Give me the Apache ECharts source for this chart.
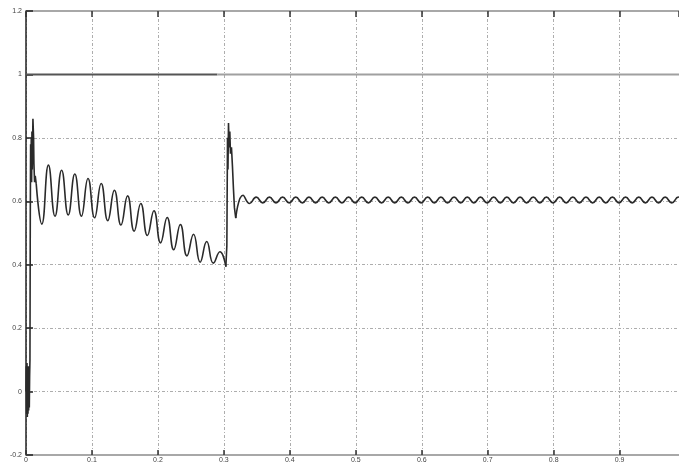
<!DOCTYPE html>
<html><head><meta charset="utf-8">
<script src="https://cdn.jsdelivr.net/npm/echarts@6/dist/echarts.min.js"></script>
<style>html,body{margin:0;padding:0;background:#fff}#c{width:679px;height:464px}</style>
</head><body><div id="c"></div>
<script>
// Axis ranges
const xRange = [0, 0.99, 0.1];
const yRange = [-0.2, 1.2, 0.2];

// Reference level (setpoint) line
const refLevelDark = [[0, 1], [0.29, 1]];
const refLevelLight = [[0.29, 1], [0.99, 1]];

// Startup transient (fast oscillation then rise to first overshoot)
const startup = [[0,0],[0.0005,0.08],[0.001,-0.07],[0.0015,0.09],[0.002,-0.08],[0.0025,0.07],[0.003,-0.07],
  [0.0035,0.08],[0.004,-0.06],[0.0045,0.06],[0.005,-0.05],[0.0055,0.05],[0.006,0.1],[0.0065,0.55],
  [0.007,0.78],[0.0075,0.7],[0.008,0.8],[0.0085,0.66],[0.009,0.82],[0.0095,0.7],[0.0105,0.86],
  [0.0115,0.8],[0.012,0.72],[0.013,0.66],[0.014,0.68],[0.0155,0.655]];

// Decaying oscillation (peaks and troughs) until step at t=0.3
const decay = [[0.0155,0.655],[0.024,0.528],[0.034,0.714],[0.044,0.553],[0.054,0.698],[0.064,0.557],
  [0.074,0.686],[0.084,0.553],[0.094,0.672],[0.104,0.548],[0.114,0.656],[0.124,0.539],[0.134,0.635],
  [0.144,0.525],[0.154,0.617],[0.164,0.506],[0.174,0.593],[0.184,0.492],[0.194,0.570],[0.204,0.469],
  [0.214,0.549],[0.224,0.447],[0.234,0.527],[0.244,0.428],[0.254,0.496],[0.264,0.408],[0.274,0.473],
  [0.284,0.405],[0.294,0.441],[0.303,0.394]];

// Second transient at t=0.3
const stepJump = [[0.303,0.394],[0.3045,0.46],[0.3055,0.8],[0.3062,0.7],[0.307,0.847],[0.308,0.77],
  [0.309,0.82],[0.310,0.75],[0.3115,0.77],[0.313,0.71],[0.3145,0.64],[0.316,0.58],[0.318,0.547]];

// Steady-state ripple around 0.6
const steady = [[0.318,0.547],[0.329,0.619],[0.339,0.593],[0.349,0.613],[0.359,0.595],[0.369,0.613],
  [0.379,0.595],[0.389,0.613],[0.399,0.595],[0.409,0.613],[0.419,0.595],[0.429,0.613],[0.439,0.595],
  [0.449,0.613],[0.459,0.595],[0.469,0.613],[0.479,0.595],[0.489,0.613],[0.499,0.595],[0.509,0.613],
  [0.519,0.595],[0.529,0.613],[0.539,0.595],[0.549,0.613],[0.559,0.595],[0.569,0.613],[0.579,0.595],
  [0.589,0.613],[0.599,0.595],[0.609,0.613],[0.619,0.595],[0.629,0.613],[0.639,0.595],[0.649,0.613],
  [0.659,0.595],[0.669,0.613],[0.679,0.595],[0.689,0.613],[0.699,0.595],[0.709,0.613],[0.719,0.595],
  [0.729,0.613],[0.739,0.595],[0.749,0.613],[0.759,0.595],[0.769,0.613],[0.779,0.595],[0.789,0.613],
  [0.799,0.595],[0.809,0.613],[0.819,0.595],[0.829,0.613],[0.839,0.595],[0.849,0.613],[0.859,0.595],
  [0.869,0.613],[0.879,0.595],[0.889,0.613],[0.899,0.595],[0.909,0.613],[0.919,0.595],[0.929,0.613],
  [0.939,0.595],[0.949,0.613],[0.959,0.595],[0.969,0.613],[0.979,0.595],[0.989,0.613],[0.99,0.612]];

const chart = echarts.init(document.getElementById('c'), null, {renderer: 'canvas'});
const curveColor = '#2a2a2a';
const gridLine = {show: true, lineStyle: {color: '#adadad', width: 1, type: [3, 2, 1, 2]}};
const font = {fontFamily: 'Liberation Sans, Arial, sans-serif', fontSize: 7, color: '#444'};

function lineSeries(data, opts) {
  return Object.assign({
    type: 'line', data: data, showSymbol: false, symbol: 'none', animation: false,
    lineStyle: {color: curveColor, width: 1.6}, z: 5
  }, opts || {});
}

chart.setOption({
  animation: false,
  backgroundColor: '#fff',
  grid: {left: 26, right: 0, top: 11, bottom: 8, containLabel: false},
  xAxis: [{
    type: 'value', position: 'bottom', min: xRange[0], max: xRange[1], interval: xRange[2],
    axisLine: {show: true, onZero: false, lineStyle: {color: '#a8a8a8', width: 2}},
    axisTick: {show: true, inside: true, length: 5, lineStyle: {color: '#333', width: 1.5}},
    axisLabel: Object.assign({margin: 2, showMaxLabel: false}, font),
    splitLine: gridLine
  }, {
    type: 'value', position: 'top', min: xRange[0], max: xRange[1], interval: xRange[2],
    axisLine: {show: true, onZero: false, lineStyle: {color: '#a8a8a8', width: 2}},
    axisTick: {show: true, inside: true, length: 6, lineStyle: {color: '#333', width: 1.5}},
    axisLabel: {show: false}, splitLine: {show: false}
  }],
  yAxis: {
    type: 'value', min: yRange[0], max: yRange[1], interval: yRange[2],
    axisLine: {show: true, onZero: false, lineStyle: {color: '#222', width: 1.5}},
    axisTick: {show: true, inside: true, length: 7, lineStyle: {color: '#222', width: 1.5}},
    axisLabel: Object.assign({margin: 4}, font),
    splitLine: gridLine
  },
  series: [
    lineSeries(refLevelDark, {lineStyle: {color: '#555', width: 2}, z: 4}),
    lineSeries(refLevelLight, {lineStyle: {color: '#a0a0a0', width: 2}, z: 4}),
    lineSeries(startup),
    lineSeries(decay, {smooth: 0.5}),
    lineSeries(stepJump),
    lineSeries(steady, {smooth: 0.5})
  ]
});
</script>
</body></html>
